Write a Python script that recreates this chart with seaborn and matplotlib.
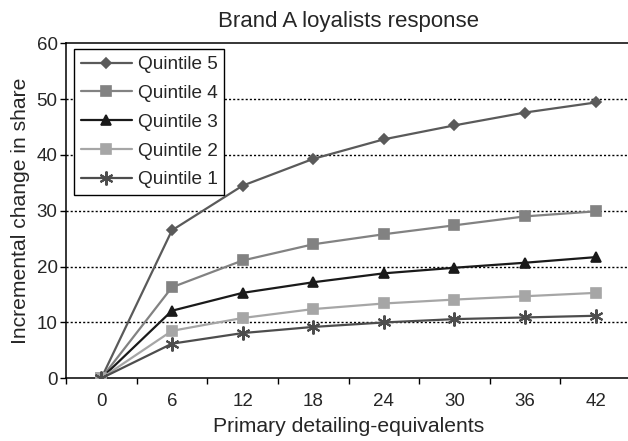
import numpy as np
import pandas as pd
import matplotlib
matplotlib.use("Agg")
import matplotlib.pyplot as plt
import seaborn as sns

# ---------------------------
# Data
# ---------------------------
detailing = [0, 6, 12, 18, 24, 30, 36, 42]
quintile_5 = [0, 26.5, 34.5, 39.3, 42.8, 45.3, 47.6, 49.4]
quintile_4 = [0, 16.3, 21.1, 24.0, 25.8, 27.4, 29.0, 29.9]
quintile_3 = [0, 12.1, 15.3, 17.2, 18.8, 19.8, 20.7, 21.7]
quintile_2 = [0, 8.5, 10.8, 12.4, 13.4, 14.1, 14.7, 15.3]
quintile_1 = [0, 6.2, 8.1, 9.2, 10.0, 10.6, 10.9, 11.2]
series_names = ["Quintile 5", "Quintile 4", "Quintile 3", "Quintile 2", "Quintile 1"]

df = pd.DataFrame({
    "x": detailing * 5,
    "y": quintile_5 + quintile_4 + quintile_3 + quintile_2 + quintile_1,
    "series": np.repeat(series_names, len(detailing)),
})

# ---------------------------
# Styles
# ---------------------------
sns.set_style("white")
plt.rcParams["font.family"] = ["Liberation Sans", "DejaVu Sans"]

colors = {"Quintile 5": "#5a5a5a", "Quintile 4": "#828282", "Quintile 3": "#1a1a1a",
          "Quintile 2": "#a6a6a6", "Quintile 1": "#4d4d4d"}
markers = {"Quintile 5": "D", "Quintile 4": "s", "Quintile 3": "^",
           "Quintile 2": "s", "Quintile 1": (6, 2, 0)}
msizes = {"Quintile 5": 5.5, "Quintile 4": 7, "Quintile 3": 7,
          "Quintile 2": 7, "Quintile 1": 10}
medges = {"Quintile 5": 1.2, "Quintile 4": 1.2, "Quintile 3": 1.2,
          "Quintile 2": 1.2, "Quintile 1": 1.5}

fig = plt.figure(figsize=(6.28, 4.41), dpi=100)
ax = fig.add_axes([66 / 628, 1 - 378.3 / 441, 565 / 628, 335 / 441])

for name in series_names:
    sub = df[df["series"] == name]
    sns.lineplot(data=sub, x="x", y="y", ax=ax, color=colors[name],
                 marker=markers[name], markersize=msizes[name],
                 markeredgecolor=colors[name], markeredgewidth=medges[name],
                 linewidth=1.6, label=name, zorder=3)

# ---------------------------
# Axes formatting
# ---------------------------
ax.set_xlim(-3, 45)
ax.set_ylim(0, 60)
ax.set_xticks(detailing)
ax.set_xticks([d - 3 for d in detailing] + [45], minor=True)
ax.tick_params(axis="x", which="major", length=0, labelsize=13.5, pad=10.5)
ax.tick_params(axis="x", which="minor", length=4, width=1, direction="out",
               bottom=True, color="black")
ax.set_yticks([0, 10, 20, 30, 40, 50, 60])
ax.tick_params(axis="y", which="major", length=4, width=1, direction="out",
               left=True, labelsize=13.5, color="black", pad=2)

for yv in [10, 20, 30, 40, 50]:
    ax.axhline(yv, color="black", linestyle=(0, (1.5, 1.5)), linewidth=1.0, zorder=1)

for side in ["left", "bottom", "top"]:
    ax.spines[side].set_visible(True)
    ax.spines[side].set_color("black")
    ax.spines[side].set_linewidth(1.1)
ax.spines["right"].set_visible(False)

ax.set_title("Brand A loyalists response", fontsize=16, pad=12)
ax.set_xlabel("Primary detailing-equivalents", fontsize=15.2, labelpad=5)
ax.set_ylabel("Incremental change in share", fontsize=15.2, labelpad=5)

leg = ax.legend(loc="upper left", bbox_to_anchor=(0.014, 0.982), fontsize=13.7,
                frameon=True, fancybox=False, edgecolor="black", framealpha=1,
                handlelength=2.7, labelspacing=0.6, borderpad=0.35,
                handletextpad=0.3, borderaxespad=0)
leg.get_frame().set_linewidth(1.0)

plt.savefig("out.png", dpi=100)
